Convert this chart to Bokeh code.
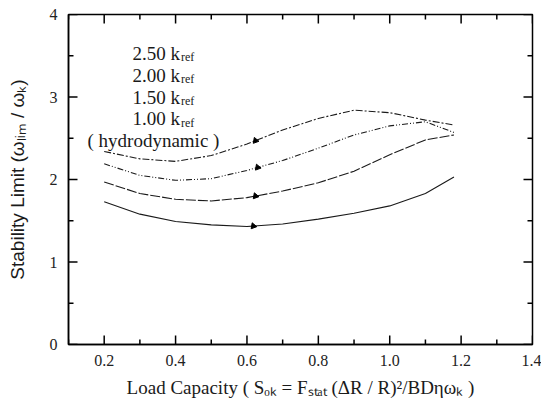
import numpy as np
from bokeh.plotting import figure
from bokeh.models import Range1d, FixedTicker, NumeralTickFormatter
from bokeh.core.properties import value
from bokeh.embed import file_html
from bokeh.resources import INLINE

# ---------------- data ----------------
load_capacity = [0.20, 0.30, 0.40, 0.50, 0.60, 0.70, 0.80, 0.90, 1.00, 1.10, 1.18]
limit_250 = [2.34, 2.25, 2.22, 2.29, 2.43, 2.60, 2.74, 2.84, 2.81, 2.72, 2.66]
limit_200 = [2.19, 2.05, 1.99, 2.01, 2.11, 2.23, 2.38, 2.54, 2.65, 2.70, 2.57]
limit_150 = [1.97, 1.83, 1.76, 1.74, 1.78, 1.86, 1.96, 2.10, 2.30, 2.48, 2.54]
limit_100 = [1.73, 1.58, 1.49, 1.45, 1.43, 1.46, 1.52, 1.59, 1.68, 1.83, 2.03]
series = [limit_250, limit_200, limit_150, limit_100]
arrow_x = [0.624, 0.630, 0.624, 0.618]

curve_labels = ["2.50 k", "2.00 k", "1.50 k", "1.00 k"]
curve_label_sub = "ref"
hydro_label = "( hydrodynamic )"
x_title = "Load Capacity ( Sₒₖ = Fₛₜₐₜ (ΔR / R)²/BDηωₖ )"
y_title = "Stability Limit (ωₗᵢₘ / ωₖ)"

x_major = [0.2, 0.4, 0.6, 0.8, 1.0, 1.2, 1.4]
x_minor = [0.1, 0.3, 0.5, 0.7, 0.9, 1.1, 1.3]
y_major = [0, 1, 2, 3, 4]
y_minor = [0.5, 1.5, 2.5, 3.5]

# ---------------- layout ----------------
W, H = 541, 400
BL, BR, BT, BB = 68, 9, 14, 54
X0, X1, Y0, Y1 = 0.1, 1.4, 0.0, 4.0
fw, fh = W - BL - BR, H - BT - BB
ppx = fw / (X1 - X0)
ppy = fh / (Y1 - Y0)
MAJ, MIN, TW = 9, 5, 1.5

SERIF = "Liberation Serif"
SANS = "Liberation Sans"
INK = "#1a1a1a"

TIMES = {" ": 250, ".": 250, "0": 500, "1": 500, "2": 500, "5": 500, "k": 500}


def tw(s, size, table):
    return sum(table.get(ch, 500) for ch in s) * size / 1000.0


p = figure(width=W, height=H, x_range=Range1d(X0, X1), y_range=Range1d(Y0, Y1),
           output_backend="svg", toolbar_location=None,
           min_border_left=BL, min_border_right=BR, min_border_top=BT, min_border_bottom=BB)
p.grid.visible = False
p.background_fill_color = "white"
p.border_fill_color = "white"
p.outline_line_color = "black"
p.outline_line_width = 1.5

xa = p.xaxis[0]
xa.ticker = FixedTicker(ticks=x_major, minor_ticks=x_minor)
xa.formatter = NumeralTickFormatter(format="0.0")
ya = p.yaxis[0]
ya.ticker = FixedTicker(ticks=y_major, minor_ticks=y_minor)
ya.formatter = NumeralTickFormatter(format="0")
for ax in (xa, ya):
    ax.axis_line_color = "black"
    ax.axis_line_width = 1.5
    ax.major_tick_in = 0
    ax.major_tick_out = 0
    ax.minor_tick_in = 0
    ax.minor_tick_out = 0
    ax.major_label_text_font = SERIF
    ax.major_label_text_font_size = "16px"
    ax.major_label_text_color = "#222222"
xa.major_label_standoff = 10
ya.major_label_standoff = 11

xa.axis_label = x_title
xa.axis_label_text_font = SERIF
xa.axis_label_text_font_style = "normal"
xa.axis_label_text_font_size = "19px"
xa.axis_label_text_color = INK
xa.axis_label_standoff = 8

ya.axis_label = y_title
ya.axis_label_text_font = SANS
ya.axis_label_text_font_style = "normal"
ya.axis_label_text_font_size = "19px"
ya.axis_label_text_color = INK
ya.axis_label_standoff = 19

# ---------------- inward ticks on all four sides (thin filled quads) ----------------
hx = (TW / 2) / ppx
hy = (TW / 2) / ppy


def xticks(pos, length):
    d = length / ppy
    for yb, sgn in ((Y0, 1), (Y1, -1)):
        lo, hi = (yb, yb + d) if sgn > 0 else (yb - d, yb)
        p.quad(left=[t - hx for t in pos], right=[t + hx for t in pos],
               bottom=[lo] * len(pos), top=[hi] * len(pos),
               fill_color="black", line_color=None)


def yticks(pos, length):
    d = length / ppx
    for xb, sgn in ((X0, 1), (X1, -1)):
        lo, hi = (xb, xb + d) if sgn > 0 else (xb - d, xb)
        p.quad(left=[lo] * len(pos), right=[hi] * len(pos),
               bottom=[t - hy for t in pos], top=[t + hy for t in pos],
               fill_color="black", line_color=None)


xticks(x_major, MAJ)
xticks(x_minor, MIN)
yticks(y_major, MAJ)
yticks(y_minor, MIN)

# ---------------- curves ----------------
dashes = ["7 2 2 2", "6 2 1 2 1 2", "10 2", "solid"]
for ys, d in zip(series, dashes):
    p.line(load_capacity, ys, line_color=INK, line_width=1.1, line_dash=d)

arrow_y = [float(np.interp(ax_, load_capacity, ys)) for ax_, ys in zip(arrow_x, series)]
p.scatter(arrow_x, arrow_y, marker="triangle", size=6, angle=0.35,
          fill_color="black", line_color="black")

# ---------------- curve labels ----------------
lab_x = X0 + (132 - BL) / ppx
lab_base = (H - BB - 53) / ppy
step = 22.0 / ppy
lab_y = [lab_base - i * step for i in range(len(curve_labels))]
p.text([lab_x] * len(curve_labels), lab_y, text=curve_labels,
       text_font=value(SERIF), text_font_size="19px", text_color=INK,
       text_baseline="alphabetic", text_align="left")
sub_dx = (tw("2.50 k", 19, TIMES) + 1) / ppx
p.text([lab_x + sub_dx] * len(curve_labels), [y - 4 / ppy for y in lab_y],
       text=[curve_label_sub] * len(curve_labels),
       text_font=value(SERIF), text_font_size="12px", text_color=INK,
       text_baseline="alphabetic", text_align="left")
hyd_x = X0 + (87 - BL) / ppx
hyd_y = lab_base - len(curve_labels) * step
p.text([hyd_x], [hyd_y], text=[hydro_label], text_font=value(SERIF),
       text_font_size="19px", text_color=INK, text_baseline="alphabetic",
       text_align="left")

open("out.html", "w").write(file_html(p, INLINE))
